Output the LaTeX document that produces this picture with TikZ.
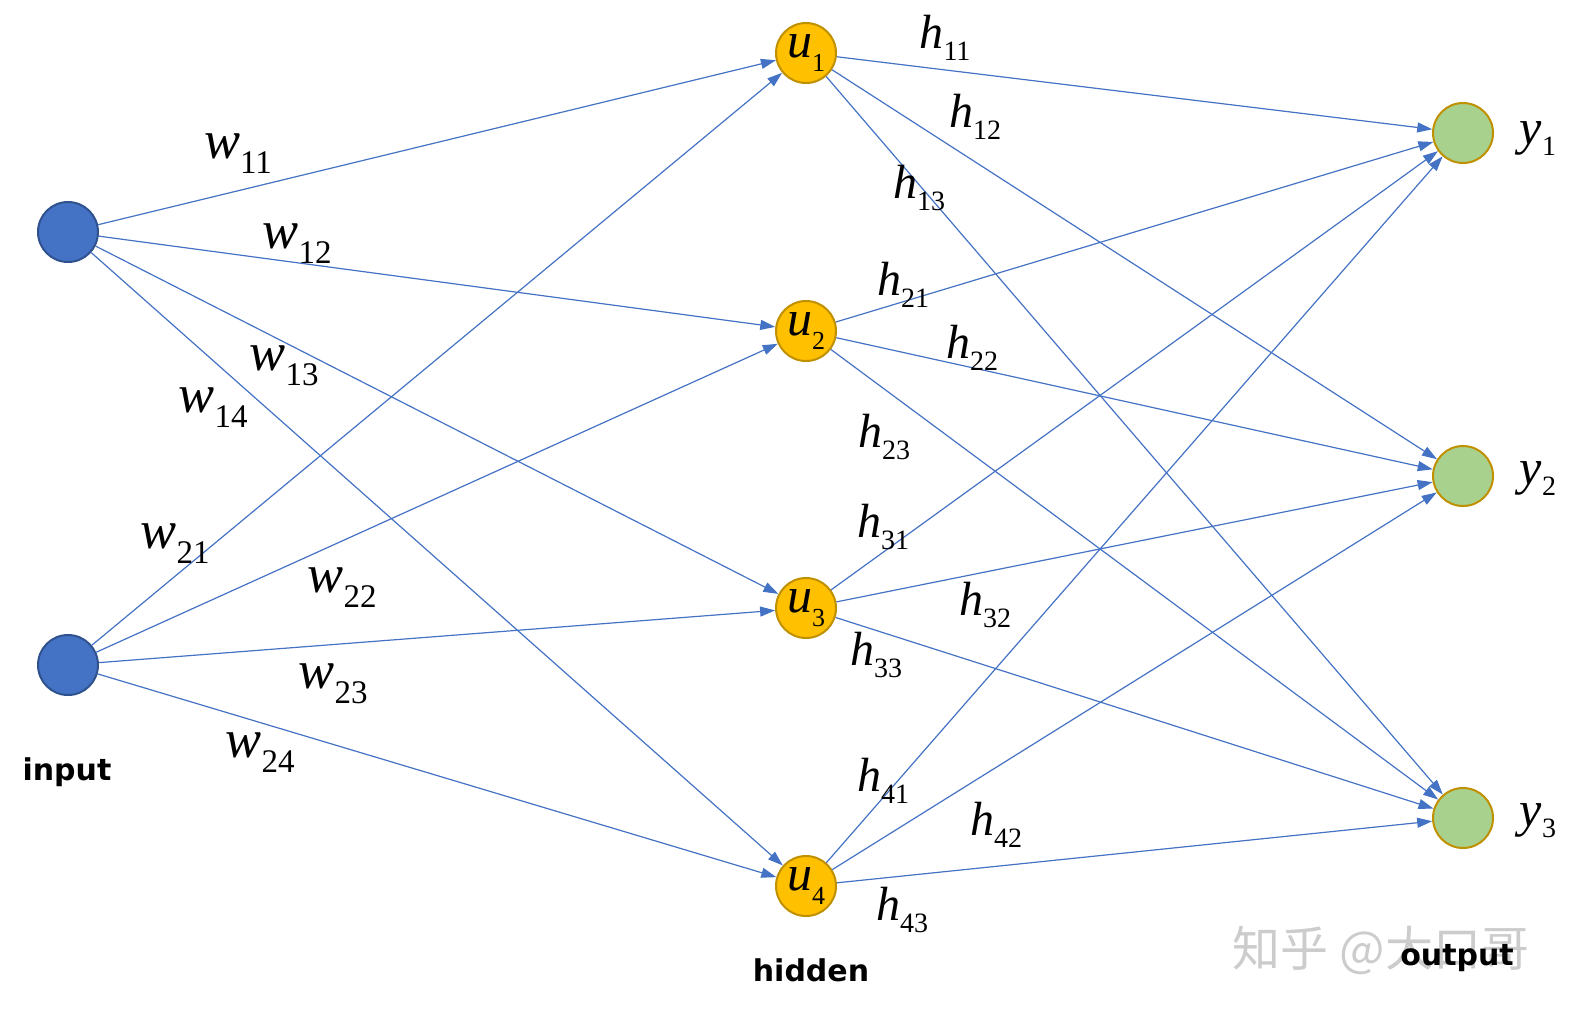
\documentclass[tikz,border=0pt]{standalone}
\usepackage{fontspec}
\setmainfont{Liberation Serif}
\newfontfamily\layerfont{DejaVu Sans}
\newfontfamily\cjkfont{Noto Sans CJK SC}
\usetikzlibrary{arrows.meta}

\definecolor{linkblue}{HTML}{4472C4}
\definecolor{inborder}{HTML}{2F528F}
\definecolor{hidfill}{HTML}{FFC000}
\definecolor{hidborder}{HTML}{BF9000}
\definecolor{outfill}{HTML}{A9D18E}

% weight labels
\newcommand{\wlab}[1]{{\fontsize{27}{27}\selectfont\itshape w}\raisebox{-7.5pt}{\fontsize{16.5}{16.5}\selectfont #1}}
\newcommand{\hlab}[1]{{\fontsize{24}{24}\selectfont\itshape h}\raisebox{-6pt}{\fontsize{14}{14}\selectfont #1}}
\newcommand{\ylab}[1]{{\fontsize{25}{25}\selectfont\itshape y}\raisebox{-5.5pt}{\fontsize{14}{14}\selectfont #1}}
\newcommand{\ulab}[1]{{\fontsize{25}{25}\selectfont\itshape u}\raisebox{-7pt}{\fontsize{13}{13}\selectfont #1}}

\begin{document}
\begin{tikzpicture}[x=0.5pt,y=-0.5pt,
    innode/.style={circle,draw=inborder,fill=linkblue,line width=1pt,minimum size=30pt,inner sep=0pt},
    hidnode/.style={circle,draw=hidborder,fill=hidfill,line width=1pt,minimum size=30pt,inner sep=0pt},
    outnode/.style={circle,draw=hidborder,fill=outfill,line width=1pt,minimum size=30pt,inner sep=0pt},
    link/.style={draw=linkblue,line width=0.6pt,-{Triangle[length=7.5pt,width=5pt,fill=linkblue]}},
    wt/.style={inner sep=0pt},
    layer/.style={font=\layerfont\bfseries\fontsize{15}{15}\selectfont}]
    \useasboundingbox (0,0) rectangle (1572,1018);

    % Input layer
    \node [innode] (in1) at (68,232) {};
    \node [innode] (in2) at (68,665) {};
    \node [layer] (inlab) at (67,772) {input};

    % Hidden layer
    \node [hidnode] (u1) at (806,53) {\ulab{1}};
    \node [hidnode] (u2) at (806,331) {\ulab{2}};
    \node [hidnode] (u3) at (806,608) {\ulab{3}};
    \node [hidnode] (u4) at (806,886) {\ulab{4}};
    \node [layer] (hidlab) at (811,970) {hidden};

    % Output layer
    \node [outnode] (y1) at (1463,133) {};
    \node [outnode] (y2) at (1463,476) {};
    \node [outnode] (y3) at (1463,818) {};
    \node [wt] (y1lab) at (1538,139) {\ylab{1}};
    \node [wt] (y2lab) at (1538,479) {\ylab{2}};
    \node [wt] (y3lab) at (1538,821) {\ylab{3}};

    % Watermark
    \node [text=gray!40,font=\cjkfont\fontsize{24}{24}\selectfont] (mark) at (1381,950) {知乎 @大口哥};
    \node [layer] (outlab) at (1457,958) {output};

    % Input to hidden
    \draw [link] (in1) -- (u1);
    \draw [link] (in1) -- (u2);
    \draw [link] (in1) -- (u3);
    \draw [link] (in1) -- (u4);

    \draw [link] (in2) -- (u1);
    \draw [link] (in2) -- (u2);
    \draw [link] (in2) -- (u3);
    \draw [link] (in2) -- (u4);

    % Hidden to output
    \draw [link] (u1) -- (y1);
    \draw [link] (u1) -- (y2);
    \draw [link] (u1) -- (y3);

    \draw [link] (u2) -- (y1);
    \draw [link] (u2) -- (y2);
    \draw [link] (u2) -- (y3);

    \draw [link] (u3) -- (y1);
    \draw [link] (u3) -- (y2);
    \draw [link] (u3) -- (y3);

    \draw [link] (u4) -- (y1);
    \draw [link] (u4) -- (y2);
    \draw [link] (u4) -- (y3);

    % Weights w
    \node [wt] (w11) at (238,154) {\wlab{11}};
    \node [wt] (w12) at (297,244) {\wlab{12}};
    \node [wt] (w13) at (284,366) {\wlab{13}};
    \node [wt] (w14) at (213,408) {\wlab{14}};
    \node [wt] (w21) at (175,544) {\wlab{21}};
    \node [wt] (w22) at (342,588) {\wlab{22}};
    \node [wt] (w23) at (333,684) {\wlab{23}};
    \node [wt] (w24) at (260,753) {\wlab{24}};

    % Weights h
    \node [wt] (h11) at (945,38) {\hlab{11}};
    \node [wt] (h12) at (975,117) {\hlab{12}};
    \node [wt] (h13) at (919,188) {\hlab{13}};
    \node [wt] (h21) at (903,285) {\hlab{21}};
    \node [wt] (h22) at (972,348) {\hlab{22}};
    \node [wt] (h23) at (884,437) {\hlab{23}};
    \node [wt] (h31) at (883,527) {\hlab{31}};
    \node [wt] (h32) at (985,605) {\hlab{32}};
    \node [wt] (h33) at (876,655) {\hlab{33}};
    \node [wt] (h41) at (883,781) {\hlab{41}};
    \node [wt] (h42) at (996,825) {\hlab{42}};
    \node [wt] (h43) at (902,910) {\hlab{43}};
\end{tikzpicture}
\end{document}
